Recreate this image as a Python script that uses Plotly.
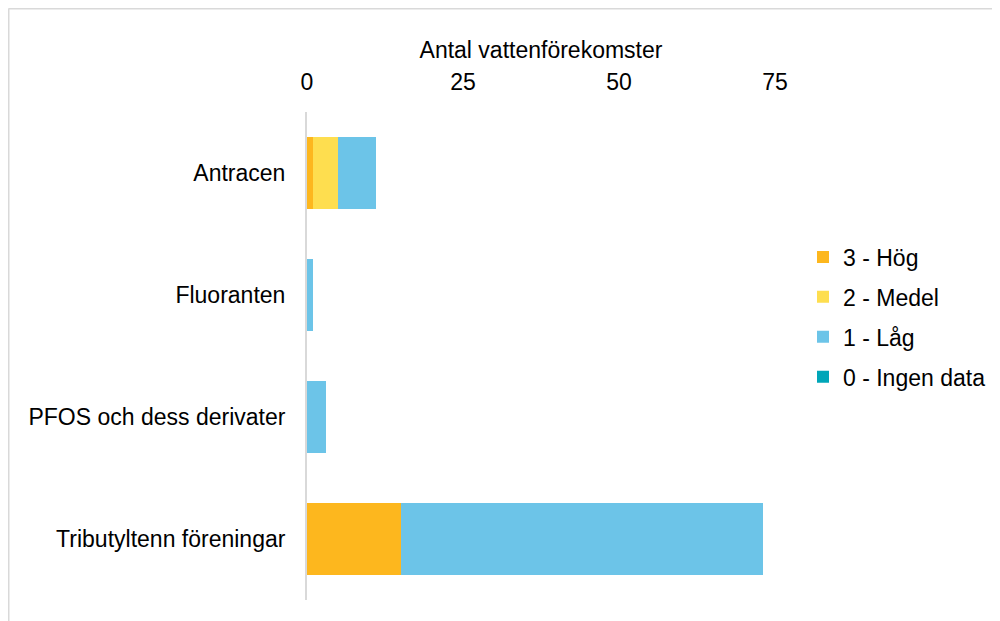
import plotly.graph_objects as go

categories = ["Antracen", "Fluoranten", "PFOS och dess derivater", "Tributyltenn föreningar"]
hog = [1, 0, 0, 15]
medel = [4, 0, 0, 0]
lag = [6, 1, 3, 58]
ingen = [0, 0, 0, 0]
x_ticks = [0, 25, 50, 75]

series = [
    ("3 - Hög", hog, "#FDB71E"),
    ("2 - Medel", medel, "#FEDE4F"),
    ("1 - Låg", lag, "#6CC4E8"),
    ("0 - Ingen data", ingen, "#00A6B8"),
]

fig = go.Figure()
for i, (name, vals, col) in enumerate(series):
    fig.add_trace(go.Bar(
        y=categories, x=vals, name=name, orientation="h",
        marker=dict(color=col, line=dict(width=0)),
        legendgroup=f"g{i}",
    ))

FONT = "Liberation Sans, Arial, sans-serif"
FS = 23
OFF = 8  # page body margin
W, H = 1000, 621
L, T = 307 - OFF, 112 - OFF
R = W - (775 - OFF)
B = H - (600 - OFF)
pw, ph = W - L - R, H - T - B

def px(x):
    return (x - OFF - L) / pw

def py(y):
    return (H - B - (y - OFF)) / ph

fig.update_layout(
    width=W, height=H,
    barmode="stack", bargap=0.41,
    margin=dict(l=L, r=R, t=T, b=B, pad=0),
    paper_bgcolor="white", plot_bgcolor="white",
    font=dict(family=FONT, size=FS, color="#000000"),
    showlegend=True,
    legend=dict(
        xref="container", yref="container",
        x=(803 - OFF) / W, y=1 - (317 - OFF) / H, xanchor="left", yanchor="middle",
        traceorder="grouped", tracegroupgap=7,
        font=dict(family=FONT, size=FS, color="#000000"),
        bgcolor="rgba(0,0,0,0)",
    ),
    xaxis=dict(
        side="top", range=[0, 75], tickvals=x_ticks, ticktext=[str(v) for v in x_ticks],
        showgrid=False, zeroline=False, showline=False, ticks="",
        ticklabelstandoff=16,
        title=dict(text="Antal vattenförekomster", standoff=4,
                   font=dict(family=FONT, size=FS, color="#000000")),
        tickfont=dict(family=FONT, size=FS, color="#000000"),
    ),
    yaxis=dict(
        categoryorder="array", categoryarray=categories, autorange="reversed",
        showgrid=False, zeroline=False, showline=True, linecolor="#D9D9D9", linewidth=2,
        ticks="", ticklabelstandoff=15,
        tickfont=dict(family=FONT, size=FS, color="#000000"),
    ),
    shapes=[
        dict(type="line", xref="paper", yref="paper",
             x0=px(8.5), x1=px(8.5), y0=py(8.5), y1=py(640),
             line=dict(color="#D9D9D9", width=2)),
        dict(type="line", xref="paper", yref="paper",
             x0=px(8.5), x1=px(1020), y0=py(8.5), y1=py(8.5),
             line=dict(color="#D9D9D9", width=2)),
    ],
)

fig.write_html("out.html")
